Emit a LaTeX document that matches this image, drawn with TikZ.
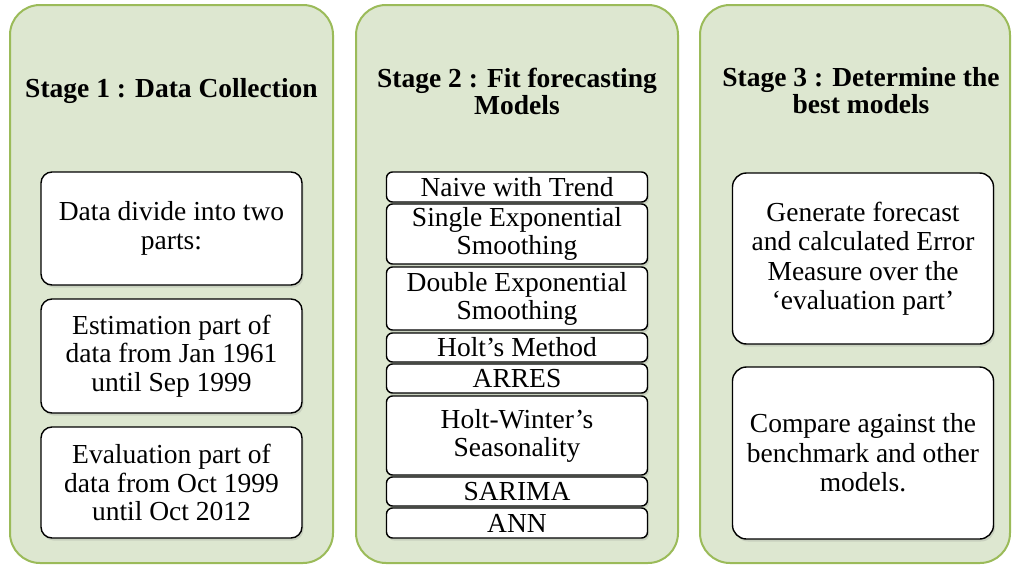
\documentclass[tikz,border=0pt]{standalone}
\usepackage{fontspec}
\setmainfont{Liberation Serif}
\usetikzlibrary{shadows}
\definecolor{panelfill}{RGB}{221,231,208}
\definecolor{panelline}{RGB}{155,187,89}
\tikzset{
  panel/.style={draw=panelline, fill=panelfill, line width=2pt, rounded corners=30pt, inner sep=0pt},
  stagetitle/.style={font=\fontsize{27.5}{27}\selectfont\bfseries, align=center, inner sep=0pt},
  item/.style={draw=black, fill=white, line width=1.4pt, align=center, inner sep=0pt,
    drop shadow={shadow xshift=1.5pt, shadow yshift=-2.5pt, opacity=0.22}},
  bigitem/.style={item, rounded corners=11pt, minimum width=261pt, font=\fontsize{27.5}{28.5}\selectfont},
  bigitemc/.style={item, rounded corners=14pt, minimum width=261pt, font=\fontsize{27.5}{29.5}\selectfont},
  model/.style={item, rounded corners=6pt, minimum width=261pt, font=\fontsize{27.5}{28}\selectfont},
}
\begin{document}
\begin{tikzpicture}[x=1pt, y=-1pt]
\useasboundingbox (0,0) rectangle (1013,565);
% panels
\node[panel, minimum width=323pt, minimum height=558pt] (p1) at (171.5,284) {};
\node[panel, minimum width=322pt, minimum height=558pt] (p2) at (517,284) {};
\node[panel, minimum width=310pt, minimum height=558pt] (p3) at (855,284) {};
% titles
\node[stagetitle] (t1) at (171.5,91) {Stage 1 : Data Collection};
\node[stagetitle] (t2) at (517,91) {Stage 2 : Fit forecasting\\Models};
\node[stagetitle] (t3) at (861,91) {Stage 3 : Determine the\\best models};
% stage 1
\node[bigitem, minimum height=113pt] (d1) at (171.5,228.5) {Data divide into two\\parts:};
\node[bigitem, minimum height=114pt] (d2) at (171.5,356) {Estimation part of\\data from Jan 1961\\until Sep 1999};
\node[bigitem, minimum height=111pt] (d3) at (171.5,482.5) {Evaluation part of\\data from Oct 1999\\until Oct 2012};
% stage 2
\node[model, minimum height=30pt] (m1) at (517,187) {Naive with Trend};
\node[model, minimum height=60pt] (m2) at (517,234) {Single Exponential\\Smoothing};
\node[model, minimum height=63pt] (m3) at (517,298.5) {Double Exponential\\Smoothing};
\node[model, minimum height=29pt] (m4) at (517,347.5) {Holt’s Method};
\node[model, minimum height=29pt] (m5) at (517,378.5) {ARRES};
\node[model, minimum height=79pt] (m6) at (517,435.5) {Holt-Winter’s\\Seasonality};
\node[model, minimum height=29pt] (m7) at (517,491.5) {SARIMA};
\node[model, minimum height=30pt] (m8) at (517,523) {ANN};
% stage 3
\node[bigitemc, minimum height=171pt] (e1) at (863,258.5) {Generate forecast\\and calculated Error\\Measure over the\\‘evaluation part’};
\node[bigitemc, minimum height=172pt] (e2) at (863,453) {Compare against the\\benchmark and other\\models.};
\end{tikzpicture}
\end{document}
